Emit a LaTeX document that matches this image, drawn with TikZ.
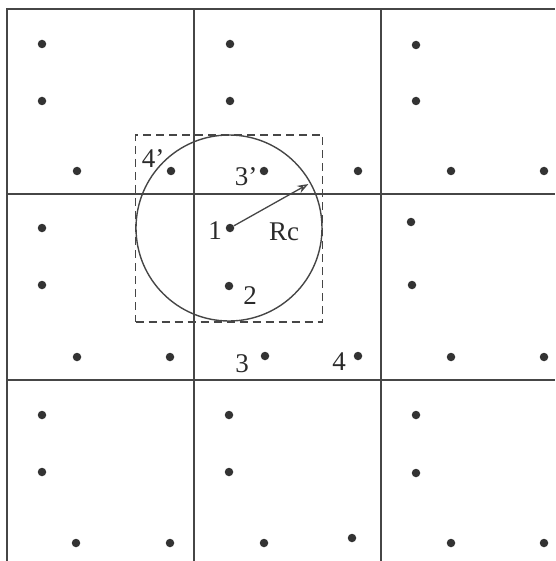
\documentclass[tikz,border=0pt]{standalone}
\usepackage{fontspec}
\setmainfont{Liberation Serif}
\usetikzlibrary{arrows.meta}
\definecolor{linecol}{HTML}{464646}
\definecolor{dotcol}{HTML}{333333}
\definecolor{txtcol}{HTML}{2A2A2A}
\tikzset{
  dot/.style={circle, fill=dotcol, inner sep=0pt, minimum size=8.5pt},
  gridline/.style={draw=linecol, line width=1.4pt},
  lbl/.style={inner sep=0pt, font=\fontsize{27}{31}\selectfont, text=txtcol},
  cutoff/.style={circle, draw=linecol, line width=1.4pt, inner sep=0pt, minimum size=186pt},
  cellbox/.style={draw=linecol, line width=1.2pt, dash pattern=on 8pt off 5pt, inner sep=0pt, minimum size=187pt},
  radius arrow/.style={draw=linecol, line width=1.3pt, -{Stealth[open, length=11pt, width=8pt]}},
}
\begin{document}
\begin{tikzpicture}[x=1pt,y=-1pt]
\useasboundingbox (0,0) rectangle (555,561);
% grid
\draw[gridline] (7,561) -- (7,9) -- (555,9);
\draw[gridline] (194,9) -- (194,561);
\draw[gridline] (381,9) -- (381,561);
\draw[gridline] (7,194) -- (555,194);
\draw[gridline] (7,380) -- (555,380);
% dots: top row
\node[dot] (a1) at (42,44) {};
\node[dot] (a2) at (42,101) {};
\node[dot] (a3) at (77,171) {};
\node[dot] (a4) at (171,171) {};
\node[dot] (b1) at (230,44) {};
\node[dot] (b2) at (230,101) {};
\node[dot] (b3) at (264,171) {};
\node[dot] (b4) at (358,171) {};
\node[dot] (c1) at (416,45) {};
\node[dot] (c2) at (416,101) {};
\node[dot] (c3) at (451,171) {};
\node[dot] (c4) at (544,171) {};
% middle row
\node[dot] (e1) at (42,228) {};
\node[dot] (e2) at (42,285) {};
\node[dot] (e3) at (77,357) {};
\node[dot] (e4) at (170,357) {};
\node[dot] (d1) at (230,228) {};
\node[dot] (d2) at (229,286) {};
\node[dot] (d3) at (265,356) {};
\node[dot] (d4) at (358,356) {};
\node[dot] (f1) at (411,222) {};
\node[dot] (f2) at (412,285) {};
\node[dot] (f3) at (451,357) {};
\node[dot] (f4) at (544,357) {};
% bottom row
\node[dot] (g1) at (42,415) {};
\node[dot] (g2) at (42,472) {};
\node[dot] (g3) at (76,543) {};
\node[dot] (g4) at (170,543) {};
\node[dot] (h1) at (229,415) {};
\node[dot] (h2) at (229,472) {};
\node[dot] (h3) at (264,543) {};
\node[dot] (h4) at (352,538) {};
\node[dot] (k1) at (416,415) {};
\node[dot] (k2) at (416,473) {};
\node[dot] (k3) at (451,543) {};
\node[dot] (k4) at (544,543) {};
% cutoff circle and cell
\node[cellbox] (cell) at (229,228.5) {};
\node[cutoff] (rc) at (229,228) {};
\draw[radius arrow, shorten >=3pt] (d1) -- (rc.29);
% labels
\node[lbl] (l1) at (215,231) {1};
\node[lbl] (lrc) at (284,232) {Rc};
\node[lbl] (l2) at (250,296) {2};
\node[lbl] (l3p) at (246,177) {3'};
\node[lbl] (l4p) at (153,159) {4'};
\node[lbl] (l3) at (242,364) {3};
\node[lbl] (l4) at (339,362) {4};
\end{tikzpicture}
\end{document}
